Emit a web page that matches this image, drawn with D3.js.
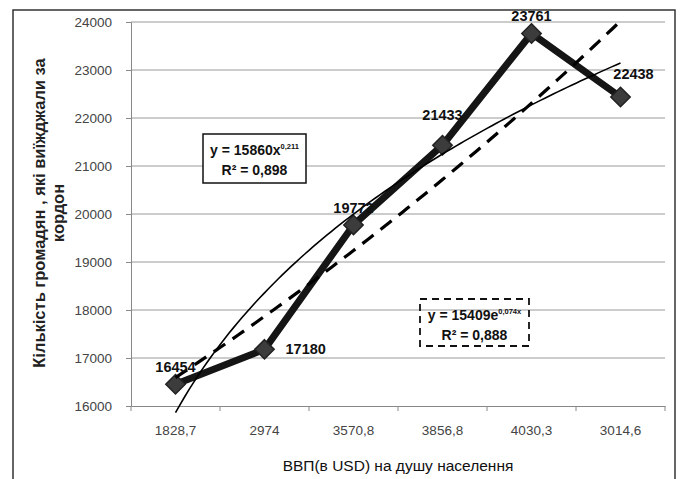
<!DOCTYPE html>
<html>
<head>
<meta charset="utf-8">
<script src="https://cdn.jsdelivr.net/npm/d3@7"></script>
<style>
  body { margin: 0; background: #fff; }
  svg text { font-family: "Liberation Sans", Arial, sans-serif; }
</style>
</head>
<body>
<svg id="chart" width="681" height="479"></svg>
<script>
// categories (GDP per capita, USD) and values (citizens who travelled abroad)
var categories = ['1828,7', '2974', '3570,8', '3856,8', '4030,3', '3014,6'];
var travellers = [16454, 17180, 19772, 21433, 23761, 22438];
var yTicks = [16000, 17000, 18000, 19000, 20000, 21000, 22000, 23000, 24000];
var labelSide = ['above', 'right', 'above', 'above', 'above', 'aboveRight'];

// trendlines as given by the equations on the chart
var powerA = 15860, powerB = 0.211;
var expA = 15409, expB = 0.074;
var powerText = ['15860x', '0,211', '0,898'];
var expText = ['15409e', '0,074x', '0,888'];

var svg = d3.select('#chart');
var plotL = 131, plotR = 665, plotT = 22, plotB = 406;

// outer frame
svg.append('rect').attr('x', 13).attr('y', 10).attr('width', 662).attr('height', 480)
  .attr('fill', 'none').attr('stroke', '#333').attr('stroke-width', 1.5);

var x = d3.scaleBand().domain(categories).range([plotL, plotR]);
var y = d3.scaleLinear().domain([16000, 24000]).range([plotB, plotT]);
var t = d3.scaleLinear().domain([1, categories.length])
  .range([x(categories[0]) + x.bandwidth() / 2, x(categories[categories.length - 1]) + x.bandwidth() / 2]);

// gridlines
svg.append('g').selectAll('line').data(yTicks.slice(1)).enter().append('line')
  .attr('x1', plotL).attr('x2', plotR)
  .attr('y1', function(d) { return y(d); }).attr('y2', function(d) { return y(d); })
  .attr('stroke', '#999').attr('stroke-width', 1);

// axes
var yAxis = svg.append('g').attr('transform', 'translate(' + plotL + ',0)')
  .call(d3.axisLeft(y).tickValues(yTicks).tickFormat(d3.format('d')).tickSize(5).tickPadding(14));
var xAxis = svg.append('g').attr('transform', 'translate(0,' + plotB + ')')
  .call(d3.axisBottom(x).tickSize(0).tickPadding(17));
xAxis.selectAll('.tick').append('line')
  .attr('x1', -x.bandwidth() / 2).attr('x2', -x.bandwidth() / 2).attr('y1', 0).attr('y2', 5);
xAxis.append('line').attr('x1', plotR).attr('x2', plotR).attr('y1', 0).attr('y2', 5);
[yAxis, xAxis].forEach(function(a) {
  a.selectAll('path, line').attr('stroke', '#888');
  a.selectAll('text').attr('fill', '#444').style('font-size', '13.5px');
});
xAxis.selectAll('text').attr('dy', '0.9em');

// main series
var cx = function(d, i) { return x(categories[i]) + x.bandwidth() / 2; };
svg.append('path').datum(travellers)
  .attr('d', d3.line().x(cx).y(function(d) { return y(d); }))
  .attr('fill', 'none').attr('stroke', '#151515').attr('stroke-width', 7).attr('stroke-linejoin', 'round');

svg.append('g').selectAll('path').data(travellers).enter().append('path')
  .attr('d', d3.symbol().type(d3.symbolDiamond2).size(240))
  .attr('transform', function(d, i) { return 'translate(' + cx(d, i) + ',' + y(d) + ')'; })
  .attr('fill', '#3c3c3c').attr('stroke', '#222').attr('stroke-width', 1.5);

// trendlines
var steps = d3.range(1, categories.length + 0.001, 0.05);
svg.append('path').datum(steps)
  .attr('d', d3.line().x(function(k) { return t(k); }).y(function(k) { return y(powerA * Math.pow(k, powerB)); }))
  .attr('fill', 'none').attr('stroke', '#000').attr('stroke-width', 1.6);
svg.append('path').datum(steps)
  .attr('d', d3.line().x(function(k) { return t(k); }).y(function(k) { return y(expA * Math.exp(expB * k)); }))
  .attr('fill', 'none').attr('stroke', '#000').attr('stroke-width', 3.2).attr('stroke-dasharray', '14,9');

// data labels
svg.append('g').selectAll('text').data(travellers).enter().append('text')
  .attr('x', function(d, i) {
    var s = labelSide[i];
    return cx(d, i) + (s === 'right' ? 21 : s === 'aboveRight' ? 13 : 0);
  })
  .attr('y', function(d, i) {
    var s = labelSide[i];
    return y(d) + (s === 'right' ? 5 : s === 'aboveRight' ? -18 : (i === 3 ? -25 : -12));
  })
  .attr('text-anchor', function(d, i) { return labelSide[i] === 'right' ? 'start' : 'middle'; })
  .style('font-size', '14.5px').style('font-weight', 'bold').attr('fill', '#111')
  .text(function(d) { return d; });

// equation boxes
function eqBox(bx, by, w, h, parts, dashed) {
  var g = svg.append('g');
  g.append('rect').attr('x', bx).attr('y', by).attr('width', w).attr('height', h)
    .attr('fill', dashed ? 'none' : '#fff').attr('stroke', '#111').attr('stroke-width', dashed ? 1.8 : 1.5)
    .attr('stroke-dasharray', dashed ? '7,5' : null);
  var l1 = g.append('text').attr('x', bx + w / 2).attr('y', by + 21).attr('text-anchor', 'middle')
    .style('font-size', '14px').style('font-weight', 'bold').attr('fill', '#111');
  l1.append('tspan').text('y = ' + parts[0]);
  l1.append('tspan').attr('dy', -6).style('font-size', '7.5px').text(parts[1]);
  g.append('text').attr('x', bx + w / 2).attr('y', by + 41).attr('text-anchor', 'middle')
    .style('font-size', '14px').style('font-weight', 'bold').attr('fill', '#111')
    .text('R² = ' + parts[2]);
}
eqBox(203, 134, 103, 49, powerText, false);
eqBox(420, 299, 109, 47, expText, true);

// axis titles
svg.append('text').attr('x', 398).attr('y', 471).attr('text-anchor', 'middle')
  .style('font-size', '15.5px').attr('fill', '#111').text('ВВП(в USD) на душу населення');
var yt = svg.append('text').attr('transform', 'translate(45,213) rotate(-90)')
  .attr('text-anchor', 'middle').style('font-size', '16.5px').style('font-weight', 'bold').attr('fill', '#222');
yt.append('tspan').attr('x', 0).attr('y', 0).text('Кількість громадян , які виїжджали за');
yt.append('tspan').attr('x', 0).attr('y', 19).text('кордон');
</script>
</body>
</html>
